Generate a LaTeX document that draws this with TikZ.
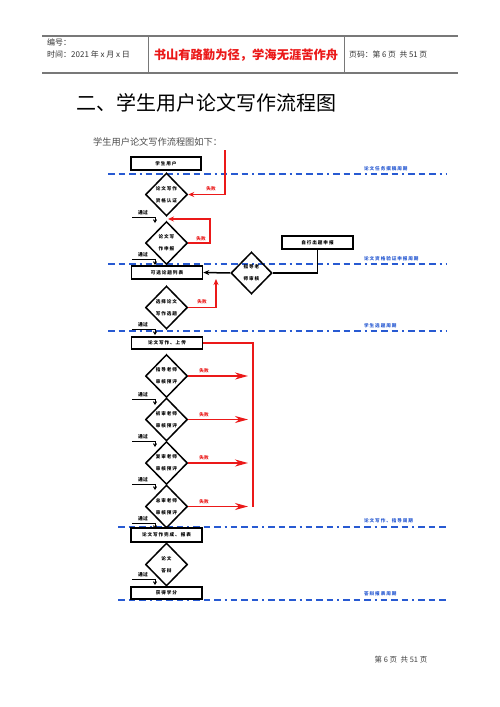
\documentclass[tikz,border=0pt]{standalone}
\usepackage{fontspec}
\usetikzlibrary{shapes.geometric,arrows.meta}
\newfontfamily\cjk{Noto Sans CJK SC}
\newfontfamily\cjksp{Noto Sans CJK SC}[LetterSpace=20]
\definecolor{bandblue}{RGB}{40,90,210}
\definecolor{failred}{RGB}{235,25,25}
\definecolor{hdrgray}{RGB}{120,120,120}
\tikzset{
  stepbox/.style={draw, line width=1.5pt, minimum width=71pt, minimum height=13pt, inner sep=0pt,
    font=\cjksp\bfseries\fontsize{4.6}{5}\selectfont},
  dia/.style={draw, diamond, line width=1.5pt, minimum width=42pt, minimum height=43pt, inner sep=0pt,
    align=center, font=\cjksp\bfseries\fontsize{4.6}{12}\selectfont},
  band/.style={draw=bandblue, line width=1.8pt,
    dash pattern=on 6.5pt off 4pt on 6.5pt off 4pt on 6.5pt off 4pt on 2pt off 4pt},
  bandtxt/.style={anchor=west, inner sep=0pt, text=bandblue, font=\cjksp\bfseries\fontsize{4.6}{5}\selectfont},
  failline/.style={draw=failred, line width=1.3pt},
  failarrow/.style={failline, -{Stealth[length=6pt,width=5pt]}},
  bigfail/.style={failline, -{Stealth[length=13pt,width=7pt,inset=4pt]}},
  failtxt/.style={inner sep=0pt, text=failred, font=\cjk\bfseries\fontsize{4.6}{5}\selectfont},
  passline/.style={draw, line width=1pt},
  passarrow/.style={draw, line width=1pt, -{Straight Barb[length=2.5pt,width=3pt]}},
  passtxt/.style={inner sep=0pt, font=\cjk\bfseries\fontsize{4.8}{5}\selectfont},
  hdr/.style={draw=hdrgray, line width=1.3pt},
}
\begin{document}
\begin{tikzpicture}[x=1pt,y=-1pt]
\useasboundingbox (0,0) rectangle (500,707);
\fill[white] (0,0) rectangle (500,707);

% ---------- header ----------
\coordinate (hTL) at (42,36);
\coordinate (hTR) at (458,36);
\coordinate (hBL) at (42,73);
\coordinate (hBR) at (458,73);
\draw[hdr] (hTL) -- (hTR);
\draw[hdr] (hBL) -- (hBR);
\coordinate (s1t) at (148,36); \coordinate (s1b) at (148,73);
\coordinate (s2t) at (344,36); \coordinate (s2b) at (344,73);
\draw[draw=hdrgray, line width=1pt] (s1t) -- (s1b);
\draw[draw=hdrgray, line width=1pt] (s2t) -- (s2b);
\node[anchor=west, inner sep=0pt, text=black!80, font=\cjk\fontsize{8}{9}\selectfont] (hno) at (47,42) {编号：};
\node[anchor=west, inner sep=0pt, text=black!80, font=\cjk\fontsize{8}{9}\selectfont] (htime) at (47,54) {时间：2021 年 x 月 x 日};
\node[inner sep=0pt, text=failred, font=\cjk\bfseries\fontsize{12.3}{13}\selectfont] (motto) at (246,55) {书山有路勤为径，学海无涯苦作舟};
\node[anchor=west, inner sep=0pt, text=black!80, font=\cjk\fontsize{7.8}{9}\selectfont] (hpage) at (349,55) {页码：第 6 页 \ 共 51 页};

% ---------- titles ----------
\node[anchor=west, inner sep=0pt, font=\cjk\fontsize{20}{22}\selectfont] (title) at (76,103) {二、学生用户论文写作流程图};
\node[anchor=west, inner sep=0pt, text=black!70, font=\cjk\fontsize{9.2}{10}\selectfont] (sub) at (93,142) {学生用户论文写作流程图如下：};

% ---------- bands ----------
\coordinate (L1a) at (108,174); \coordinate (L1b) at (446,174);
\coordinate (L2a) at (108,264); \coordinate (L2b) at (446,264);
\coordinate (L3a) at (108,331); \coordinate (L3b) at (446,331);
\coordinate (L4a) at (118,527); \coordinate (L4b) at (446,527);
\coordinate (L5a) at (118,600); \coordinate (L5b) at (446,600);
\draw[band] (L1a) -- (L1b);
\draw[band] (L2a) -- (L2b);
\draw[band] (L3a) -- (L3b);
\draw[band] (L4a) -- (L4b);
\draw[band] (L5a) -- (L5b);
\node[bandtxt] (t1) at (364,169) {论文任务撰稿周期};
\node[bandtxt] (t2) at (364,259) {论文资格验证申报周期};
\node[bandtxt] (t3) at (364,326) {学生选题周期};
\node[bandtxt] (t4) at (364,521) {论文写作、指导周期};
\node[bandtxt] (t5) at (364,594) {答辩报表周期};

% ---------- nodes ----------
\node[stepbox, minimum width=70pt] (b1) at (166,163.5) {学生用户};
\node[dia] (d1) at (166.5,194.5) {论文写作\\资格认证};
\node[dia] (d2) at (166.5,243) {论文写\\作申报};
\node[stepbox] (b2) at (167,272.5) {可选论题列表};
\node[stepbox] (b3) at (317.5,242.5) {自行出题申报};
\node[dia, minimum width=41pt, minimum height=42pt] (d3) at (251.5,273) {指导老\\师审核};
\node[dia] (d4) at (166.5,307.5) {选择论文\\写作选题};
\node[stepbox, minimum height=12pt] (b4) at (167,343) {论文写作、上传};
\node[dia] (d5) at (166.5,376) {指导老师\\审核预评};
\node[dia] (d6) at (166.5,419.5) {初审老师\\审核预评};
\node[dia] (d7) at (166.5,463) {复审老师\\审核预评};
\node[dia] (d8) at (166.5,506.5) {总审老师\\审核预评};
\node[stepbox, minimum height=14pt] (b5) at (166.5,535) {论文写作完成、报表};
\node[dia] (d9) at (166.5,564.5) {论文\\答辩};
\node[stepbox, minimum height=12pt] (b6) at (166.5,593) {获得学分};

% ---------- black connectors ----------
\draw[line width=1.5pt] (b3.south) |- (d3.east);
\draw[line width=1.5pt, -{Stealth[length=6pt,width=5pt]}] (d3.west) -- (b2.east);

% ---------- red failure loops ----------
\coordinate (r0) at (225,150);
\draw[failarrow] (r0) |- (d1.east);
\node[failtxt] (f1) at (211,189) {失败};

\coordinate (j12) at (168,219);
\coordinate (r2) at (210,219);
\draw[failarrow] (d2.east) -| (r2) -- (j12);
\node[failtxt] (f2) at (201,239) {失败};

\coordinate (r4) at (216,279);
\draw[failarrow] (d4.east) -| (r4);
\node[failtxt] (f4) at (202,302) {失败};

\coordinate (rv) at (253,343);
\coordinate (rvb) at (253,506.5);
\draw[failline] (b4.east) -- (rv) -- (rvb);
\coordinate (e5) at (248,376);
\coordinate (e6) at (248,419.5);
\coordinate (e7) at (248,463);
\coordinate (e8) at (248,506.5);
\draw[bigfail] (d5.east) -- (e5);
\draw[bigfail] (d6.east) -- (e6);
\draw[bigfail] (d7.east) -- (e7);
\draw[bigfail] (d8.east) -- (e8);
\node[failtxt] (f5) at (204,371) {失败};
\node[failtxt] (f6) at (204,414.5) {失败};
\node[failtxt] (f7) at (204,458) {失败};
\node[failtxt] (f8) at (204,501.5) {失败};

% ---------- pass markers ----------
\foreach \i/\yy in {1/217,2/259,3/329,4/399,5/441,6/484,7/523,8/579}{
  \coordinate (pa\i) at (132,\yy);
  \coordinate (pb\i) at (155,\yy);
  \coordinate (pc\i) at (155,\yy+6);
  \draw[passline] (pa\i) -- (pb\i);
  \draw[passarrow] (pb\i) -- (pc\i);
  \node[passtxt] (pt\i) at (143,\yy-4) {通过};
}

% ---------- footer ----------
\node[inner sep=0pt, text=black!75, font=\cjk\fontsize{7.5}{8}\selectfont] (foot) at (401,660) {第 6 页 \ 共 51 页};
\end{tikzpicture}
\end{document}
